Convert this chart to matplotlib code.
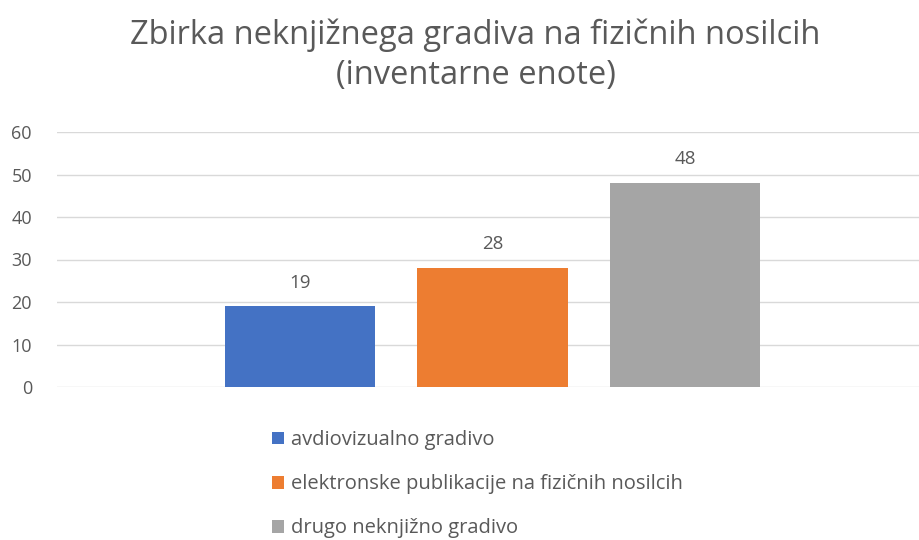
import matplotlib
matplotlib.use('Agg')
import matplotlib.pyplot as plt
from matplotlib.patches import Patch

title = "Zbirka neknjižnega gradiva na fizičnih nosilcih\n(inventarne enote)"
categories = ["avdiovizualno gradivo",
              "elektronske publikacije na fizičnih nosilcih",
              "drugo neknjižno gradivo"]
values = [19, 28, 48]
colors = ["#4472C4", "#ED7D31", "#A5A5A5"]
yticks = [0, 10, 20, 30, 40, 50, 60]

TEXT = "#595959"
plt.rcParams['font.family'] = ['Open Sans', 'DejaVu Sans']

fig = plt.figure(figsize=(9.2, 5.4), dpi=100)
ax = fig.add_axes([57 / 920, 1 - 387 / 540, 863 / 920, 255 / 540])

x = list(range(len(values)))
bars = ax.bar(x, values, width=0.78, color=colors, zorder=3)

# value labels above each bar
for xi, v in zip(x, values):
    ax.annotate(str(v), (xi, v), xytext=(0, 17), textcoords='offset points',
                ha='center', va='center', fontsize=13.5, color=TEXT)

ax.set_ylim(0, 60)
ax.set_xlim(-1.262, 3.22)
ax.set_yticks(yticks)
ax.set_xticks([])
ax.yaxis.grid(True, color="#D9D9D9", linewidth=1, zorder=0)
for s in ax.spines.values():
    s.set_visible(False)
ax.tick_params(axis='y', length=0, pad=18, labelsize=13, labelcolor=TEXT)
for lbl in ax.get_yticklabels():
    lbl.set_horizontalalignment('right')

fig.text(0.517, 0.897, title, ha='center', va='center', fontsize=23.5,
         color=TEXT, linespacing=1.28)

# legend stacked below the plot
handles = [Patch(facecolor=c) for c in colors]
fig.legend(handles, categories, loc='upper left', bbox_to_anchor=(262 / 920, 1 - 420 / 540),
           frameon=False, fontsize=14.5, labelcolor=TEXT, handlelength=0.6,
           handleheight=0.6, handletextpad=0.35, labelspacing=1.2, borderpad=0)

fig.savefig("out.png", dpi=100, facecolor='white')
